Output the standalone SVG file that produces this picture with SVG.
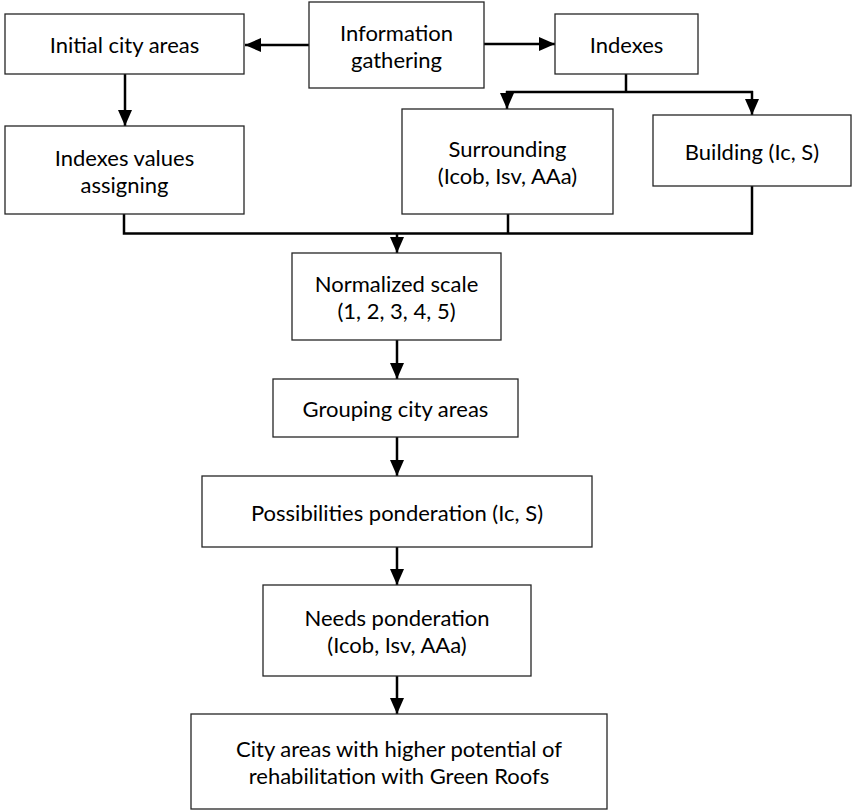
<svg xmlns="http://www.w3.org/2000/svg" width="854" height="812" viewBox="0 0 854 812">
<style>
.box{fill:#fff;stroke:#262626;stroke-width:1.3}
.t{font-family:Lato,"Liberation Sans",sans-serif;font-size:22px;fill:#000;text-anchor:middle}
.c{fill:none;stroke:#000;stroke-width:2.5}
</style>
<defs>
<marker id="ah" markerUnits="userSpaceOnUse" markerWidth="17" markerHeight="14" refX="16" refY="7" orient="auto" viewBox="0 0 17 14">
<path d="M0,0 L16,7 L0,14 z" fill="#000"/>
</marker>
</defs>
<rect width="854" height="812" fill="#fff"/>
<g id="connectors">
<line class="c" x1="309" y1="45" x2="245" y2="45" marker-end="url(#ah)"/>
<line class="c" x1="484" y1="44" x2="555" y2="44" marker-end="url(#ah)"/>
<line class="c" x1="125" y1="74" x2="125" y2="126" marker-end="url(#ah)"/>
<polyline class="c" points="626,74 626,92"/>
<line class="c" x1="506" y1="92" x2="753" y2="92"/>
<line class="c" x1="507" y1="91" x2="507" y2="109" marker-end="url(#ah)"/>
<line class="c" x1="752" y1="91" x2="752" y2="115" marker-end="url(#ah)"/>
<polyline class="c" points="124,214 124,233.5 753,233.5"/>
<line class="c" x1="508" y1="214" x2="508" y2="233.5"/>
<line class="c" x1="752" y1="186" x2="752" y2="234.5"/>
<line class="c" x1="397" y1="233" x2="397" y2="253" marker-end="url(#ah)"/>
<line class="c" x1="397" y1="340" x2="397" y2="379" marker-end="url(#ah)"/>
<line class="c" x1="397" y1="437" x2="397" y2="476" marker-end="url(#ah)"/>
<line class="c" x1="397" y1="547" x2="397" y2="585" marker-end="url(#ah)"/>
<line class="c" x1="397" y1="676" x2="397" y2="714" marker-end="url(#ah)"/>
</g>
<g id="info">
<rect class="box" x="309" y="2" width="175" height="86"/>
<text class="t" x="396.5" y="40.5">Information</text>
<text class="t" x="396.5" y="67.5">gathering</text>
</g>
<g id="initial">
<rect class="box" x="5" y="14" width="239" height="60"/>
<text class="t" x="124.5" y="53">Initial city areas</text>
</g>
<g id="indexes">
<rect class="box" x="555" y="14" width="143" height="60"/>
<text class="t" x="626.5" y="53">Indexes</text>
</g>
<g id="assigning">
<rect class="box" x="5" y="126" width="239" height="88"/>
<text class="t" x="124.5" y="165.5">Indexes values</text>
<text class="t" x="124.5" y="192.5">assigning</text>
</g>
<g id="surrounding">
<rect class="box" x="402" y="109" width="211" height="105"/>
<text class="t" x="507.5" y="157">Surrounding</text>
<text class="t" x="507.5" y="184">(Icob, Isv, AAa)</text>
</g>
<g id="building">
<rect class="box" x="653" y="115" width="198" height="71"/>
<text class="t" x="752" y="159.5">Building (Ic, S)</text>
</g>
<g id="normalized">
<rect class="box" x="292" y="253" width="209" height="87"/>
<text class="t" x="396.5" y="292">Normalized scale</text>
<text class="t" x="396.5" y="319">(1, 2, 3, 4, 5)</text>
</g>
<g id="grouping">
<rect class="box" x="273" y="379" width="245" height="58"/>
<text class="t" x="395.5" y="417">Grouping city areas</text>
</g>
<g id="possibilities">
<rect class="box" x="202" y="476" width="390" height="71"/>
<text class="t" x="397" y="520.5">Possibilities ponderation (Ic, S)</text>
</g>
<g id="needs">
<rect class="box" x="263" y="585" width="268" height="91"/>
<text class="t" x="397" y="626">Needs ponderation</text>
<text class="t" x="397" y="653">(Icob, Isv, AAa)</text>
</g>
<g id="result">
<rect class="box" x="191" y="714" width="416" height="95"/>
<text class="t" x="399" y="757">City areas with higher potential of</text>
<text class="t" x="399" y="784">rehabilitation with Green Roofs</text>
</g>
</svg>
